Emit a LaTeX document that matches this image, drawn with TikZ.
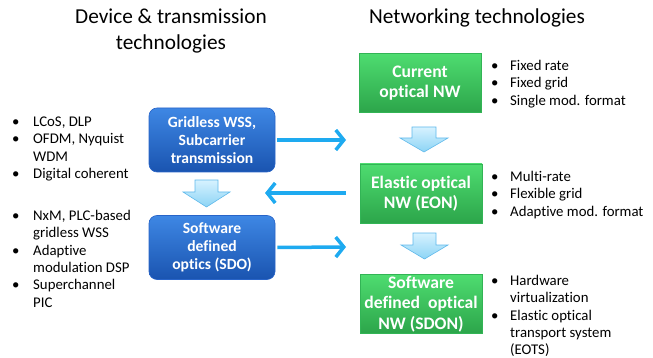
\documentclass[tikz,border=0pt]{standalone}
\usepackage{fontspec}
\setmainfont{Carlito}[Ligatures=NoCommon]
\usetikzlibrary{arrows.meta}
\definecolor{thinarrow}{RGB}{30,170,240}
\definecolor{blueTop}{RGB}{62,135,228}
\definecolor{blueBot}{RGB}{26,84,176}
\definecolor{blueEdge}{RGB}{40,100,200}
\definecolor{greenTop}{RGB}{78,220,112}
\definecolor{greenBot}{RGB}{44,165,74}
\definecolor{greenEdge}{RGB}{50,180,85}
\definecolor{blkTop}{RGB}{215,242,255}
\definecolor{blkBot}{RGB}{140,212,245}
\definecolor{blkEdge}{RGB}{95,185,235}
\begin{document}
\begin{tikzpicture}[x=1pt,y=-1pt]
\tikzset{
 bluebox/.style={rounded corners=8pt, top color=blueTop, bottom color=blueBot, draw=blueEdge, line width=0.6pt,
   minimum width=126pt, minimum height=64pt, text=white, font=\fontsize{15.6}{18}\selectfont\bfseries, align=center, inner sep=0pt},
 greenbox/.style={top color=greenTop, bottom color=greenBot, draw=greenEdge, line width=0.6pt,
   minimum width=122pt, minimum height=59pt, text=white, font=\fontsize{17.6}{20.5}\selectfont\bfseries, align=center, inner sep=0pt},
 thinarr/.style={line width=3.5pt, draw=thinarrow, -{Straight Barb[length=8pt,width=20pt,line width=3.5pt]}},
 blockarrow/.style={top color=blkTop, bottom color=blkBot, draw=blkEdge, line width=0.6pt},
 bullets/.style={anchor=north west, inner sep=0pt, font=\fontsize{14.8}{17.4}\selectfont, align=left},
 titletext/.style={font=\fontsize{21.3}{26}\selectfont, align=center}
}
\useasboundingbox (0,0) rectangle (653,358);
% titles
\node[titletext] (t1) at (171,31) {Device \& transmission\\technologies};
\node[titletext] (t2) at (477,18) {Networking technologies};
% blue boxes
\node[bluebox] (b1) at (212,140) {Gridless WSS,\\Subcarrier\\transmission};
\node[bluebox] (b2) at (212,247.5) {Software\\defined\\optics (SDO)};
% green boxes
\node[greenbox] (g1) at (420,83) {Current\\optical NW};
\node[greenbox] (g2) at (421,193.5) {Elastic optical\\NW (EON)};
\node[greenbox] (g3) at (421,304) {Software\\defined\ \ optical\\NW (SDON)};
% block arrows
\shade[blockarrow] (195,180) -- (218,180) -- (218,192) -- (230,192) -- (206.5,207) -- (183,192) -- (195,192) -- cycle;
\shade[blockarrow] (412,127) -- (436,127) -- (436,138) -- (448,138) -- (424,152) -- (400,138) -- (412,138) -- cycle;
\shade[blockarrow] (413,233) -- (436,233) -- (436,245) -- (448,245) -- (424.5,259) -- (401,245) -- (413,245) -- cycle;
% thin arrows
\coordinate (a1e) at (346,140);
\coordinate (a2s) at (346,193);
\coordinate (a2e) at (265,193);
\coordinate (a3e) at (346,247);
\draw[thinarr] ([xshift=2pt]b1.east) -- (a1e);
\draw[thinarr] (a2s) -- (a2e);
\draw[thinarr] ([xshift=2pt]b2.east) -- (a3e);
% bullet lists
\node[bullets] (l1) at (12,114) {\begin{tabular}{@{}p{21pt}@{}l@{}}\textbullet & LCoS, DLP\\ \textbullet & OFDM, Nyquist\\ & WDM\\ \textbullet & Digital coherent\end{tabular}};
\node[bullets] (l2) at (12,208) {\begin{tabular}{@{}p{21pt}@{}l@{}}\textbullet & NxM, PLC-based\\ & gridless WSS\\ \textbullet & Adaptive\\ & modulation DSP\\ \textbullet & Superchannel\\ & PIC\end{tabular}};
\node[bullets] (r1) at (491,58) {\begin{tabular}{@{}p{19pt}@{}l@{}}\textbullet & Fixed rate\\ \textbullet & Fixed grid\\ \textbullet & Single mod. format\end{tabular}};
\node[bullets] (r2) at (491,169) {\begin{tabular}{@{}p{19pt}@{}l@{}}\textbullet & Multi-rate\\ \textbullet & Flexible grid\\ \textbullet & Adaptive mod. format\end{tabular}};
\node[bullets] (r3) at (491,273) {\begin{tabular}{@{}p{19pt}@{}l@{}}\textbullet & Hardware\\ & virtualization\\ \textbullet & Elastic optical\\ & transport system\\ & (EOTS)\end{tabular}};
\end{tikzpicture}
\end{document}
